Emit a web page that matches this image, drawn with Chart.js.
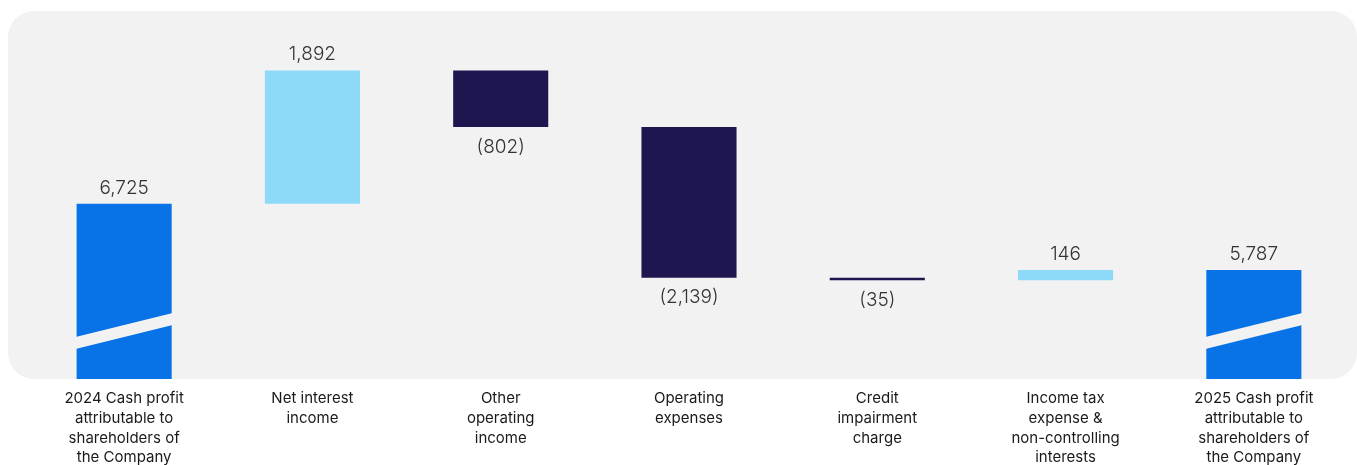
<!DOCTYPE html>
<html>
<head>
<meta charset="utf-8">
<script src="https://cdn.jsdelivr.net/npm/chart.js@4.4.1/dist/chart.umd.min.js"></script>
<style>
  html, body { margin: 0; padding: 0; background: #fff; }
  #wrap { width: 1357px; height: 465px; position: relative; }
</style>
</head>
<body>
<div id="wrap"><canvas id="myChart"></canvas></div>
<script>
// categories (multi-line labels)
var categories = [
    ['2024 Cash profit', 'attributable to', 'shareholders of', 'the Company'],
    ['Net interest', 'income'],
    ['Other', 'operating', 'income'],
    ['Operating', 'expenses'],
    ['Credit', 'impairment', 'charge'],
    ['Income tax', 'expense &', 'non-controlling', 'interests'],
    ['2025 Cash profit', 'attributable to', 'shareholders of', 'the Company']
];
// movement values (first and last are totals)
var values = [6725, 1892, -802, -2139, -35, 146, 5787];
var isTotal = [true, false, false, false, false, false, true];
var valueLabels = ['6,725', '1,892', '(802)', '(2,139)', '(35)', '146', '5,787'];

var axisMin = 4240;   // broken axis start
var axisMax = 9460;

var colTotal = '#0873E6';
var colUp = '#8CDAF8';
var colDown = '#1E164E';
var bgGrey = '#F2F2F2';

// build floating bars
var ranges = [];
var colors = [];
var running = 0;
for (var i = 0; i < values.length; i++) {
    if (isTotal[i]) {
        ranges.push([axisMin, values[i]]);
        running = values[i];
        colors.push(colTotal);
    } else {
        var next = running + values[i];
        ranges.push([running, next]);
        colors.push(values[i] >= 0 ? colUp : colDown);
        running = next;
    }
}

const bgPlugin = {
    id: 'bgPlugin',
    beforeDraw(chart) {
        const c = chart.ctx;
        c.save();
        c.fillStyle = bgGrey;
        c.beginPath();
        c.roundRect(8, 11, 1349, 368, 26);
        c.fill();
        c.restore();
    }
};

const labelPlugin = {
    id: 'labelPlugin',
    afterDatasetsDraw(chart) {
        const c = chart.ctx;
        const meta = chart.getDatasetMeta(0);
        const yScale = chart.scales.y;
        c.save();
        // break marks on the total bars
        meta.data.forEach(function(bar, i) {
            if (!isTotal[i]) return;
            const l = bar.x - bar.width / 2 - 1, r = bar.x + bar.width / 2 + 1;
            c.fillStyle = bgGrey;
            c.beginPath();
            c.moveTo(l, 337);
            c.lineTo(r, 313);
            c.lineTo(r, 325);
            c.lineTo(l, 349);
            c.closePath();
            c.fill();
        });
        c.font = '300 19px Inter, "Liberation Sans", sans-serif';
        c.fillStyle = '#333333';
        c.textAlign = 'center';
        c.textBaseline = 'middle';
        meta.data.forEach(function(bar, i) {
            const top = yScale.getPixelForValue(Math.max(ranges[i][0], ranges[i][1]));
            const bot = yScale.getPixelForValue(Math.min(ranges[i][0], ranges[i][1]));
            if (values[i] >= 0) {
                c.fillText(valueLabels[i], bar.x, top - 16);
            } else {
                c.fillText(valueLabels[i], bar.x, bot + 20);
            }
        });
        c.restore();
    }
};

const ctx = document.getElementById('myChart').getContext('2d');
const myChart = new Chart(ctx, {
    type: 'bar',
    data: {
        labels: categories,
        datasets: [{
            data: ranges,
            backgroundColor: colors,
            borderWidth: 0,
            barPercentage: 0.505,
            categoryPercentage: 1.0
        }]
    },
    options: {
        responsive: true,
        maintainAspectRatio: false,
        animation: false,
        layout: { padding: { left: 30, right: 9, top: 11, bottom: 0 } },
        plugins: {
            legend: { display: false },
            tooltip: { enabled: false }
        },
        scales: {
            x: {
                grid: { display: false, drawTicks: false },
                border: { display: false },
                ticks: {
                    padding: 9,
                    color: '#1a1a1a',
                    maxRotation: 0,
                    autoSkip: false,
                    font: { family: 'Inter, "Liberation Sans", sans-serif', size: 15, lineHeight: 1.333 }
                },
                afterFit(scale) { scale.height = 86; }
            },
            y: {
                display: false,
                min: axisMin,
                max: axisMax
            }
        }
    },
    plugins: [bgPlugin, labelPlugin]
});
</script>
</body>
</html>
